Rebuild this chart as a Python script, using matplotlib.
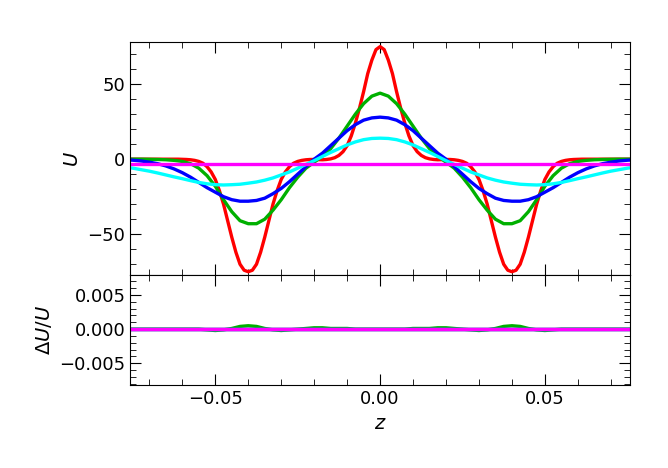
import numpy as np
import matplotlib
matplotlib.use("Agg")
import matplotlib.pyplot as plt
from matplotlib.ticker import MultipleLocator

# half-grid z values (0 .. 0.0775, step 0.0025); curves are symmetric in z
z_half = [0, 0.0025, 0.005, 0.0075, 0.01, 0.0125, 0.015, 0.0175, 0.02, 0.0225,
          0.025, 0.0275, 0.03, 0.0325, 0.035, 0.0375, 0.04, 0.0425, 0.045, 0.0475,
          0.05, 0.0525, 0.055, 0.0575, 0.06, 0.0625, 0.065, 0.0675, 0.07, 0.0725,
          0.075, 0.0775]
# finer half-grid for the narrow red curve (step 0.00125)
z_fine_half = [0, 0.00125, 0.0025, 0.00375, 0.005, 0.00625, 0.0075, 0.00875, 0.01,
               0.01125, 0.0125, 0.01375, 0.015, 0.01625, 0.0175, 0.01875, 0.02,
               0.02125, 0.0225, 0.02375, 0.025, 0.02625, 0.0275, 0.02875, 0.03,
               0.03125, 0.0325, 0.03375, 0.035, 0.03625, 0.0375, 0.03875, 0.04,
               0.04125, 0.0425, 0.04375, 0.045, 0.04625, 0.0475, 0.04875, 0.05,
               0.05125, 0.0525, 0.05375, 0.055, 0.05625, 0.0575, 0.05875, 0.06,
               0.06125, 0.0625, 0.06375, 0.065, 0.06625, 0.0675, 0.06875, 0.07,
               0.07125, 0.0725, 0.07375, 0.075, 0.07625, 0.0775]
red_half = [75, 73, 66, 57, 45, 34, 24, 15.5, 9, 5, 2.5, 1, 0.2, -0.2, -0.4, -0.3,
            -0.2, -0.2, -0.4, -0.8, -1.5, -2.7, -5, -8.5, -13.5, -21, -30, -41, -52,
            -62, -70, -74, -75, -74, -70, -62, -52, -41, -30, -21, -13.5, -8.5, -5,
            -2.7, -1.5, -0.8, -0.4, -0.2, -0.1, 0, 0, 0, 0, 0, 0, 0, 0, 0, 0, 0, 0,
            0, 0]
green_half = [44, 42, 37, 30, 22, 14, 7, 2, -2, -6, -12, -19, -27, -34, -40, -43, -43,
              -41, -35, -27, -18, -11, -6, -3, -1.5, -0.8, -0.4, -0.2, -0.1, 0, 0, 0]
blue_half = [28, 27.5, 26, 23, 19, 14, 9, 4, 0, -5, -10, -15, -19.5, -23, -26, -27.5,
             -28, -28, -27, -25, -22, -19, -15.5, -12, -9, -6.5, -4.5, -3, -2, -1.2,
             -0.7, -0.4]
cyan_half = [14, 13.8, 13, 11.5, 9.5, 7, 4.5, 1.8, -1, -3.5, -6, -8.5, -10.5, -12.5,
             -14, -15.2, -16, -16.7, -17, -17.2, -17, -16.4, -15.5, -14.3, -13, -11.8,
             -10.5, -9.2, -8, -7, -6, -5.3]
mag_half = [-3.0] * 32

# relative residuals (bottom panel)
res_green_half = [0, 0, 0, 0, 0.0001, 0.0001, 0.0001, 0.0002, 0.0002, 0.0001, 0,
                  -0.0001, -0.0002, -0.0001, 0.0001, 0.0004, 0.0005, 0.0004, 0.0001,
                  -0.0001, -0.0002, -0.0001, 0, 0, 0, 0, 0, 0, 0, 0, 0, 0]
res_zero_half = [0.0] * 32


def full(h, odd=False):
    h = np.asarray(h, float)
    left = -h[::-1] if odd else h[::-1]
    return np.concatenate([left, h[1:]])


z = full(z_half, odd=True)
zf = full(z_fine_half, odd=True)

fig = plt.figure(figsize=(6.68, 4.68), dpi=100)
ax1 = fig.add_axes([0.195, 0.412, 0.748, 0.498])
ax2 = fig.add_axes([0.195, 0.177, 0.748, 0.235], sharex=ax1)

lw = 2.4
cols = ["#ff0000", "#00b000", "#0000ff", "#00ffff", "#ff00ff"]
ax1.plot(zf, full(red_half), color=cols[0], lw=lw)
for data, c in zip([green_half, blue_half, cyan_half, mag_half], cols[1:]):
    ax1.plot(z, full(data), color=c, lw=lw)
for data, c in zip([res_zero_half, res_green_half, res_zero_half, res_zero_half, res_zero_half], cols):
    ax2.plot(z, full(data), color=c, lw=lw)

ax1.set_xlim(-0.0758, 0.0758)
ax1.set_ylim(-77.3, 78)
ax2.set_ylim(-0.0082, 0.0079)
ax1.set_yticks([-50, 0, 50])
ax1.set_yticklabels(["\u221250", "0", "50"])
ax1.yaxis.set_minor_locator(MultipleLocator(10))
ax2.set_yticks([-0.005, 0, 0.005])
ax2.set_yticklabels(["\u22120.005", "0.000", "0.005"])
ax2.yaxis.set_minor_locator(MultipleLocator(0.001))
ax2.set_xticks([-0.05, 0, 0.05])
ax2.set_xticklabels(["\u22120.05", "0.00", "0.05"])
ax2.xaxis.set_minor_locator(MultipleLocator(0.01))
plt.setp(ax1.get_xticklabels(), visible=False)

for ax in (ax1, ax2):
    ax.tick_params(which="both", direction="in", top=True, right=True, labelsize=13)
    ax.tick_params(which="major", length=8)
    ax.tick_params(which="minor", length=4)

ax1.set_ylabel("$U$", fontsize=14)
ax2.set_ylabel(r"$\Delta U/U$", fontsize=14)
ax2.set_xlabel("$z$", fontsize=14)

fig.savefig("out.png", dpi=100)
